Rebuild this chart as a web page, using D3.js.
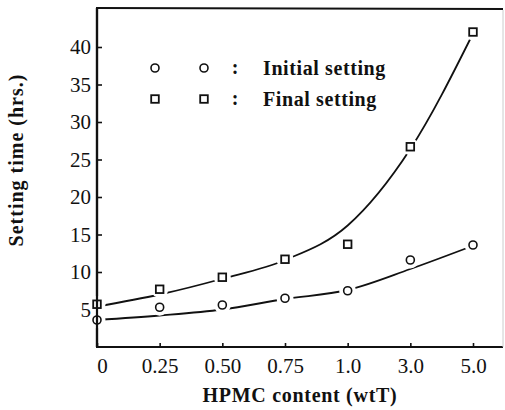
<!DOCTYPE html>
<html lang="en">
<head>
<meta charset="UTF-8">
<title>Setting time vs HPMC content</title>
<script src="https://d3js.org/d3.v7.min.js"></script>
<style>
    body { margin: 0; background: #fff; }
    svg { display: block; font-family: "Liberation Serif", "Times New Roman", serif; }
    .tick text { font-size: 21px; fill: #111; }
    .domain { display: none; }
</style>
</head>
<body>
<svg width="505" height="410"></svg>
<script>
// categories on the x axis (HPMC content, wt%)
const hpmc = ["0", "0.25", "0.50", "0.75", "1.0", "3.0", "5.0"];

// measured setting times (hrs.)
const initialSetting = [3.6, 5.3, 5.6, 6.5, 7.5, 11.6, 13.6];
const finalSetting = [5.7, 7.7, 9.3, 11.7, 13.7, 26.7, 42.0];

// fitted trend curves, read at each category
const initialFit = [3.6, 4.2, 5.0, 6.4, 7.6, 10.4, 13.5];
const finalFit = [5.4, 7.0, 9.1, 11.6, 16.2, 26.4, 41.8];

const yTicks = [5, 10, 15, 20, 25, 30, 35, 40];

const series = [
    { name: "Initial setting", values: initialSetting, fit: initialFit, shape: "circle" },
    { name: "Final setting", values: finalSetting, fit: finalFit, shape: "square" }
];

const serif = '"Liberation Serif", "Times New Roman", serif';

const svg = d3.select("svg"),
    width = +svg.attr("width"),
    height = +svg.attr("height");

const margin = { top: 8, right: 2, bottom: 63, left: 97 };
const plotWidth = width - margin.left - margin.right;
const plotHeight = height - margin.top - margin.bottom;

const x = d3.scalePoint()
    .domain(hpmc)
    .range([0, 376]);

const y = d3.scaleLinear()
    .domain([0, 45.2])
    .range([plotHeight, 0]);

const g = svg.append("g")
    .attr("transform", `translate(${margin.left},${margin.top})`);

// frame: left axis, bottom axis, top line, faint right edge
g.append("line").attr("x1", 0).attr("x2", 0).attr("y1", 0).attr("y2", plotHeight)
    .attr("stroke", "#111").attr("stroke-width", 2.2);
g.append("line").attr("x1", -1).attr("x2", plotWidth).attr("y1", plotHeight).attr("y2", plotHeight)
    .attr("stroke", "#111").attr("stroke-width", 2.2);
g.append("line").attr("x1", -1).attr("x2", plotWidth).attr("y1", 0).attr("y2", 1)
    .attr("stroke", "#111").attr("stroke-width", 2);
g.append("line").attr("x1", plotWidth).attr("x2", plotWidth).attr("y1", 2).attr("y2", plotHeight)
    .attr("stroke", "#ccc").attr("stroke-width", 1);

// axes with inward ticks
g.append("g")
    .call(d3.axisLeft(y).tickValues(yTicks).tickSize(-5).tickSizeOuter(0).tickPadding(6))
    .attr("font-family", serif)
    .call(a => a.selectAll(".tick line").attr("stroke", "#111").attr("stroke-width", 1.6))
    .call(a => a.selectAll(".tick text").attr("font-family", serif));

g.append("g")
    .attr("transform", `translate(0,${plotHeight})`)
    .call(d3.axisBottom(x).tickSize(-4).tickSizeOuter(0).tickPadding(11))
    .attr("font-family", serif)
    .call(a => a.selectAll(".tick line").attr("stroke", "#111").attr("stroke-width", 1.6))
    .call(a => a.selectAll(".tick text").attr("font-family", serif)
        .attr("dx", (d, i) => i === 0 ? 5 : 0));

// axis titles
svg.append("text")
    .attr("x", margin.left + 203)
    .attr("y", 402)
    .attr("text-anchor", "middle")
    .attr("font-size", "20px")
    .attr("font-weight", "bold")
    .attr("letter-spacing", "0.7px")
    .attr("fill", "#111")
    .text("HPMC content (wtT)");

svg.append("text")
    .attr("transform", "translate(23,160) rotate(-90)")
    .attr("text-anchor", "middle")
    .attr("font-size", "20px")
    .attr("font-weight", "bold")
    .attr("letter-spacing", "1px")
    .attr("fill", "#111")
    .text("Setting time (hrs.)");

// fitted curves
const line = d3.line()
    .x((d, i) => x(hpmc[i]))
    .y(d => y(d))
    .curve(d3.curveMonotoneX);

series.forEach(s => {
    g.append("path")
        .attr("d", line(s.fit))
        .attr("fill", "none")
        .attr("stroke", "#111")
        .attr("stroke-width", 1.8);
});

// markers with a white gap around them
function drawMarker(sel, shape, cx, cy, halo) {
    if (halo) {
        sel.append("circle").attr("cx", cx).attr("cy", cy).attr("r", 8.5).attr("fill", "#fff");
    }
    if (shape === "circle") {
        sel.append("circle").attr("cx", cx).attr("cy", cy).attr("r", 4)
            .attr("fill", "#fff").attr("stroke", "#111").attr("stroke-width", 1.6);
    } else {
        sel.append("rect").attr("x", cx - 3.8).attr("y", cy - 3.8).attr("width", 7.6).attr("height", 7.6)
            .attr("fill", "#fff").attr("stroke", "#111").attr("stroke-width", 1.8);
    }
}

series.forEach(s => {
    const mg = g.append("g");
    s.values.forEach((v, i) => drawMarker(mg, s.shape, x(hpmc[i]), y(v), true));
});

// redraw left axis over markers at 0
g.append("line").attr("x1", 0).attr("x2", 0).attr("y1", 0).attr("y2", plotHeight)
    .attr("stroke", "#111").attr("stroke-width", 2.2);

// legend
const legend = svg.append("g");
series.forEach((s, i) => {
    const ly = 68 + i * 31;
    drawMarker(legend, s.shape, 155, ly, false);
    drawMarker(legend, s.shape, 204, ly, false);
    legend.append("text")
        .attr("x", 235).attr("y", ly + 6)
        .attr("text-anchor", "middle")
        .attr("font-size", "20px")
        .attr("font-weight", "bold")
        .attr("fill", "#111")
        .text(":");
    legend.append("text")
        .attr("x", 263).attr("y", ly + 6.5)
        .attr("font-size", "20px")
        .attr("font-weight", "bold")
        .attr("letter-spacing", "0.6px")
        .attr("fill", "#111")
        .text(s.name);
});
</script>
</body>
</html>
